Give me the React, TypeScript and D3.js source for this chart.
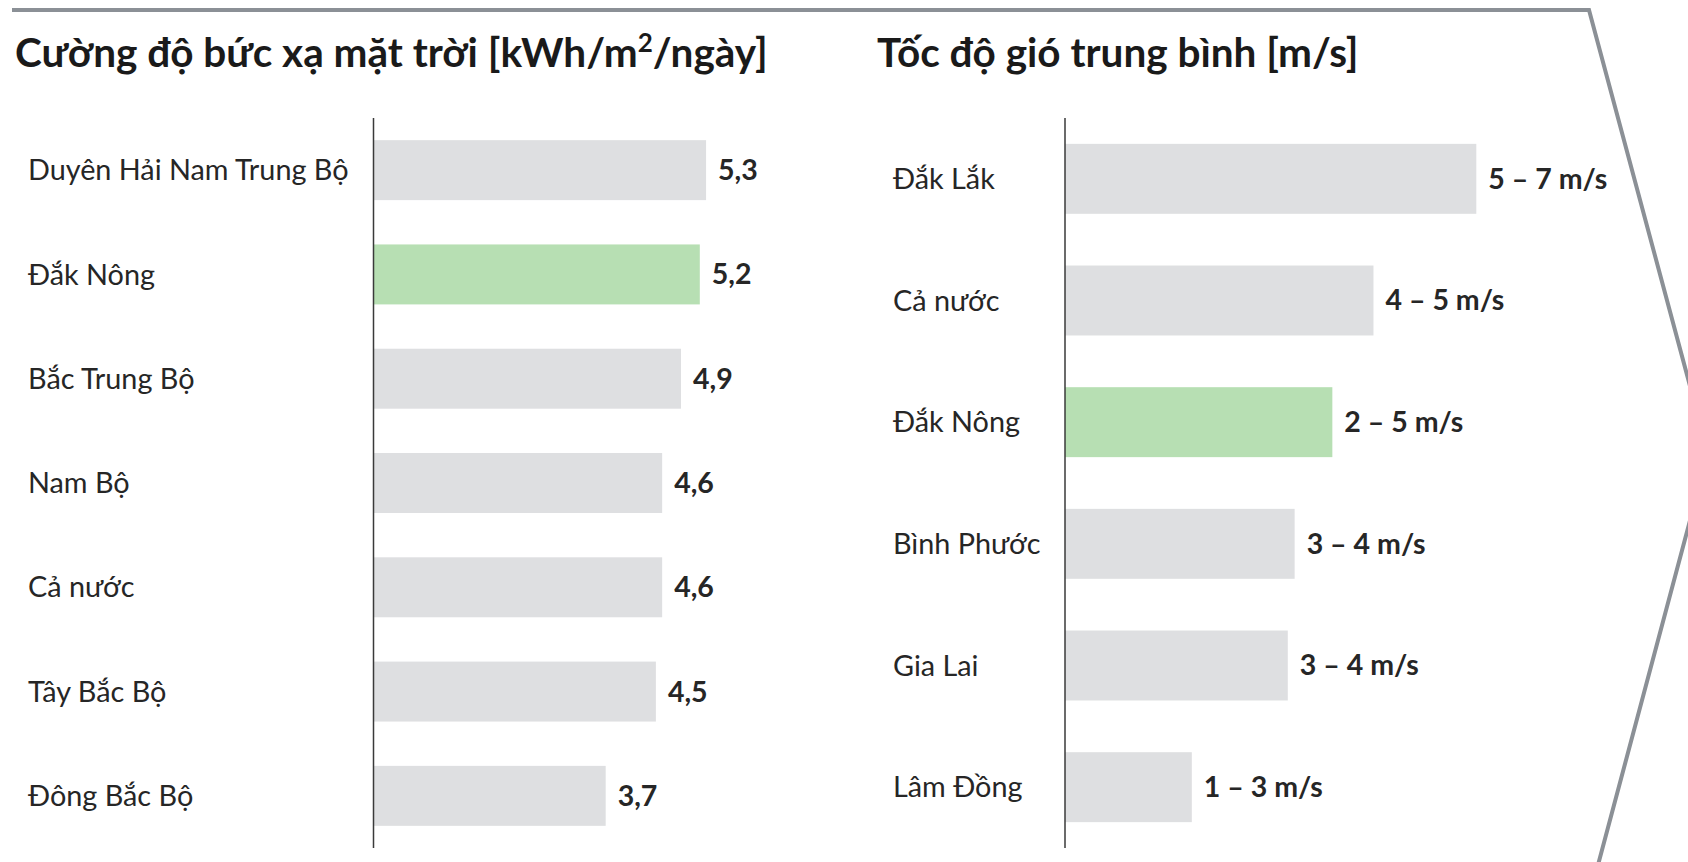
import React from "react";
import * as d3 from "d3";

// Solar irradiance by region [kWh/m²/day]
const solarRegions = [
  "Duyên Hải Nam Trung Bộ",
  "Đắk Nông",
  "Bắc Trung Bộ",
  "Nam Bộ",
  "Cả nước",
  "Tây Bắc Bộ",
  "Đông Bắc Bộ",
];
const solarValues = [5.3, 5.2, 4.9, 4.6, 4.6, 4.5, 3.7];

// Average wind speed by province [m/s]
const windRegions = ["Đắk Lắk", "Cả nước", "Đắk Nông", "Bình Phước", "Gia Lai", "Lâm Đồng"];
const windLow = [5, 4, 2, 3, 3, 1];
const windHigh = [7, 5, 5, 4, 4, 3];
const windBarValues = [6.0, 4.5, 3.9, 3.35, 3.25, 1.85];

const highlight = "Đắk Nông";

const W = 1688;
const H = 862;
const FONT = "Lato, 'Open Sans', 'Noto Sans', sans-serif";
const GREY = "#dedfe1";
const GREEN = "#b7dfb3";
const TEXT = "#262626";

type PanelProps = {
  categories: string[];
  values: number[];
  labels: string[];
  axisX: number;
  unitPx: number;
  labelX: number;
};

function BarPanel({ categories, values, labels, axisX, unitPx, labelX }: PanelProps) {
  const y = d3
    .scaleBand<string>()
    .domain(categories)
    .range([118, 848])
    .paddingInner(0.425)
    .paddingOuter(0.2125);
  const x = d3.scaleLinear().domain([0, 1]).range([axisX, axisX + unitPx]);
  const [y0, y1] = y.range();
  return (
    <g>
      {categories.map((c, i) => {
        const yc = (y(c) ?? 0) + y.bandwidth() / 2;
        return (
          <g key={c}>
            <rect
              x={x(0)}
              y={y(c)}
              width={x(values[i]) - x(0)}
              height={y.bandwidth()}
              fill={c === highlight ? GREEN : GREY}
            />
            <text
              x={labelX}
              y={yc}
              dy="0.35em"
              fontFamily={FONT}
              fontSize={28.8}
              fill={TEXT}
            >
              {c}
            </text>
            <text
              x={x(values[i]) + 12}
              y={yc}
              dy="0.35em"
              fontFamily={FONT}
              fontSize={28.5}
              fontWeight={700}
              fill={TEXT}
            >
              {labels[i]}
            </text>
          </g>
        );
      })}
      <line x1={axisX} x2={axisX} y1={y0} y2={y1} stroke="#3a3a3a" strokeWidth={1.5} />
    </g>
  );
}

export default function App() {
  const solarLabels = solarValues.map((v) => d3.format(".1f")(v).replace(".", ","));
  const windLabels = windLow.map((lo, i) => `${lo} – ${windHigh[i]} m/s`);
  const frame = d3.line()([
    [12, 10],
    [1589, 10],
    [1708, 453],
    [1594, 880],
  ]);
  return (
    <svg
      width={W}
      height={H}
      viewBox={`0 0 ${W} ${H}`}
      style={{ position: "absolute", left: 0, top: 0, display: "block", background: "#fff" }}
    >
      <path d={frame ?? ""} fill="none" stroke="#8b9096" strokeWidth={4} strokeLinejoin="miter" />

      <text x={15} y={67} fontFamily={FONT} fontSize={40.5} fontWeight={700} fill="#1a1a1a">
        Cường độ bức xạ mặt trời [kWh/m
        <tspan fontSize={26} dy={-15}>2</tspan>
        <tspan dy={15}>/ngày]</tspan>
      </text>
      <text x={877} y={67} fontFamily={FONT} fontSize={40.5} fontWeight={700} fill="#1a1a1a">
        Tốc độ gió trung bình [m/s]
      </text>

      <BarPanel
        categories={solarRegions}
        values={solarValues}
        labels={solarLabels}
        axisX={373.5}
        unitPx={62.75}
        labelX={28}
      />
      <BarPanel
        categories={windRegions}
        values={windBarValues}
        labels={windLabels}
        axisX={1065}
        unitPx={68.55}
        labelX={893}
      />
    </svg>
  );
}
